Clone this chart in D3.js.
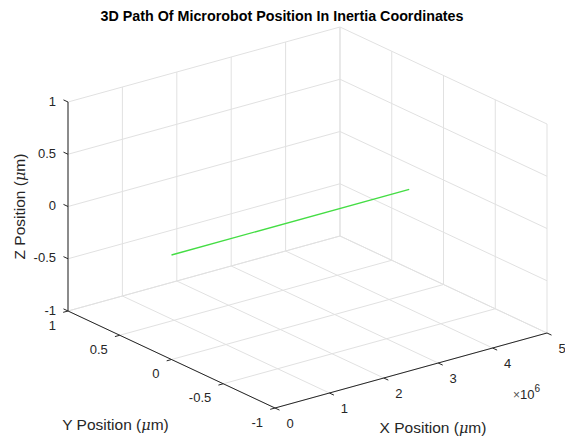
<!DOCTYPE html>
<html>
<head>
<meta charset="utf-8">
<script src="https://cdn.jsdelivr.net/npm/d3@7"></script>
<style>
  html, body { margin: 0; padding: 0; background: #ffffff; }
  svg { display: block; font-family: "Liberation Sans", Arial, Helvetica, sans-serif; }
</style>
</head>
<body>
<svg id="chart" width="565" height="444"></svg>
<script>
// ---- data ----
const titleText = "3D Path Of Microrobot Position In Inertia Coordinates";
const xDomain = [0, 5e6];
const yDomain = [-1, 1];
const zDomain = [-1, 1];
const xTicks = [0, 1e6, 2e6, 3e6, 4e6, 5e6];
const xTickLabels = ["0", "1", "2", "3", "4", "5"];
const yTicks = [-1, -0.5, 0, 0.5, 1];
const yTickLabels = ["-1", "-0.5", "0", "0.5", "1"];
const zTicks = [-1, -0.5, 0, 0.5, 1];
const zTickLabels = ["-1", "-0.5", "0", "0.5", "1"];
// microrobot path (x, y, z) in µm
const pathX = [0, 4.37e6];
const pathY = [0, 0];
const pathZ = [0, 0];

// ---- projection (MATLAB default 3D view, fitted to the figure) ----
const svg = d3.select("#chart");
const origin = [275, 408];          // screen position of (xmin, ymin, zmin)
const vx = [272, -75];              // screen vector spanning the full x range
const vy = [-207, -97];             // full y range
const vz = [0, -209];               // full z range
const xs = d3.scaleLinear().domain(xDomain).range([0, 1]);
const ys = d3.scaleLinear().domain(yDomain).range([0, 1]);
const zs = d3.scaleLinear().domain(zDomain).range([0, 1]);
function P(x, y, z) {
  const a = xs(x), b = ys(y), c = zs(z);
  return [origin[0] + vx[0]*a + vy[0]*b + vz[0]*c,
          origin[1] + vx[1]*a + vy[1]*b + vz[1]*c];
}
const line = d3.line();
const gridColor = "#e1e1e1";
const axisColor = "#262626";
const textColor = "#262626";

const [x0, x1] = xDomain, [y0, y1] = yDomain, [z0, z1] = zDomain;
const grid = svg.append("g").attr("fill", "none").attr("stroke", gridColor).attr("stroke-width", 1);
function seg(g, a, b, color) {
  g.append("path").attr("d", line([a, b])).attr("stroke", color || null);
}
// back-left wall (y = ymax)
xTicks.forEach(t => seg(grid, P(t, y1, z0), P(t, y1, z1)));
zTicks.forEach(t => seg(grid, P(x0, y1, t), P(x1, y1, t)));
// back-right wall (x = xmax)
yTicks.forEach(t => seg(grid, P(x1, t, z0), P(x1, t, z1)));
zTicks.forEach(t => seg(grid, P(x1, y0, t), P(x1, y1, t)));
// floor (z = zmin)
xTicks.forEach(t => seg(grid, P(t, y0, z0), P(t, y1, z0)));
yTicks.forEach(t => seg(grid, P(x0, t, z0), P(x1, t, z0)));

// ---- axes ----
const ax = svg.append("g").attr("fill", "none").attr("stroke", axisColor).attr("stroke-width", 1);
seg(ax, P(x0, y0, z0), P(x1, y0, z0));   // X axis
seg(ax, P(x0, y0, z0), P(x0, y1, z0));   // Y axis
seg(ax, P(x0, y1, z0), P(x0, y1, z1));   // Z axis
function unit(v) { const l = Math.hypot(v[0], v[1]); return [v[0]/l, v[1]/l]; }
const tl = 5;
const ux = unit(vx), uy = unit(vy);
xTicks.forEach(t => { const p = P(t, y0, z0); seg(ax, p, [p[0] - uy[0]*tl, p[1] - uy[1]*tl]); });
yTicks.forEach(t => { const p = P(x0, t, z0); seg(ax, p, [p[0] - ux[0]*tl, p[1] - ux[1]*tl]); });
zTicks.forEach(t => { const p = P(x0, y1, t); seg(ax, p, [p[0] + uy[0]*tl, p[1] + uy[1]*tl]); });

// ---- tick labels ----
const tfs = 13;
const lab = svg.append("g").attr("fill", textColor).attr("font-size", tfs);
xTicks.forEach((t, i) => {
  const p = P(t, y0, z0);
  lab.append("text").attr("x", p[0] + 15).attr("y", p[1] + 15).attr("dy", "0.35em")
     .attr("text-anchor", "middle").text(xTickLabels[i]);
});
yTicks.forEach((t, i) => {
  const p = P(x0, t, z0);
  lab.append("text").attr("x", p[0] - 12).attr("y", p[1] + 14).attr("dy", "0.35em")
     .attr("text-anchor", "end").text(yTickLabels[i]);
});
zTicks.forEach((t, i) => {
  const p = P(x0, y1, t);
  lab.append("text").attr("x", p[0] - 12).attr("y", p[1] - 1).attr("dy", "0.35em")
     .attr("text-anchor", "end").text(zTickLabels[i]);
});
// x exponent
const pe = P(x1, y0, z0);
const exp = lab.append("text").attr("x", pe[0] - 34).attr("y", pe[1] + 66).attr("font-size", 12);
exp.append("tspan").attr("fill", "#555").text("\u00d7");
exp.append("tspan").attr("font-size", 13).text("10");
exp.append("tspan").attr("font-size", 10).attr("dy", -7).text("6");

// ---- axis labels ----
const lfs = 15.5;
function muLabel(sel, prefix) {
  sel.append("tspan").text(prefix + " (");
  sel.append("tspan").attr("font-family", "'DejaVu Serif', serif").attr("font-style", "italic").attr("font-size", lfs - 1).text("\u03bc");
  sel.append("tspan").text("m)");
}
const pxm = P((x0 + x1) / 2, y0, z0);
muLabel(svg.append("text").attr("fill", textColor).attr("font-size", lfs)
  .attr("x", pxm[0] + 22).attr("y", pxm[1] + 62).attr("text-anchor", "middle"), "X Position");
const pym = P(x0, (y0 + y1) / 2, z0);
muLabel(svg.append("text").attr("fill", textColor).attr("font-size", lfs)
  .attr("x", pym[0] - 56).attr("y", pym[1] + 70).attr("text-anchor", "middle"), "Y Position");
const pzm = P(x0, y1, (z0 + z1) / 2);
muLabel(svg.append("text").attr("fill", textColor).attr("font-size", lfs)
  .attr("transform", `translate(${pzm[0] - 43},${pzm[1]}) rotate(-90)`)
  .attr("text-anchor", "middle"), "Z Position");

// ---- title ----
svg.append("text").attr("x", 282).attr("y", 21).attr("text-anchor", "middle")
  .attr("font-size", 14.3).attr("font-weight", "bold").attr("fill", "#000").text(titleText);

// ---- data path ----
const pts = pathX.map((x, i) => P(x, pathY[i], pathZ[i]));
svg.append("path").attr("d", line(pts)).attr("fill", "none")
  .attr("stroke", "#44dd44").attr("stroke-width", 1.3);
</script>
</body>
</html>
